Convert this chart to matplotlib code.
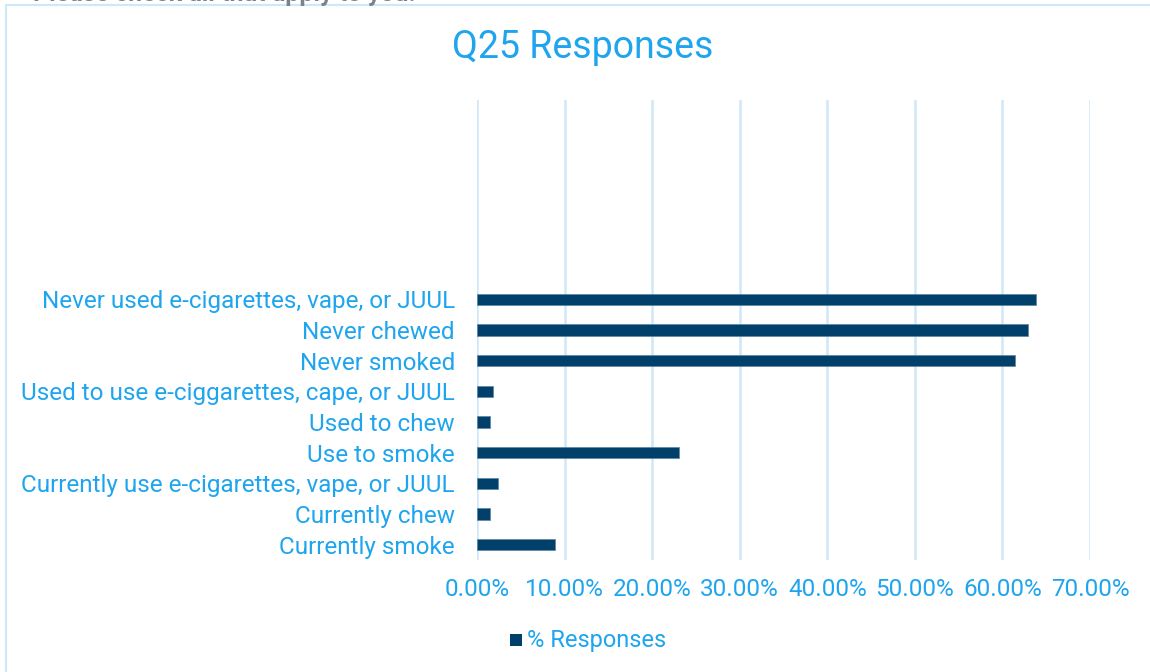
import matplotlib
matplotlib.use("Agg")
import matplotlib.pyplot as plt
from matplotlib.patches import Rectangle

categories = [
    "Currently smoke",
    "Currently chew",
    "Currently use e-cigarettes, vape, or JUUL",
    "Use to smoke",
    "Used to chew",
    "Used to use e-ciggarettes, cape, or JUUL",
    "Never smoked",
    "Never chewed",
    "Never used e-cigarettes, vape, or JUUL",
]
values = [8.9, 1.5, 2.4, 23.1, 1.5, 1.8, 61.4, 62.9, 63.8]
xticks = [0, 10, 20, 30, 40, 50, 60, 70]
xtick_labels = ["0.00%", "10.00%", "20.00%", "30.00%", "40.00%", "50.00%", "60.00%", "70.00%"]

BLUE_TEXT = "#1ea5ee"
BAR = "#00406a"
GRID = "#cfe8f8"
FONT = ["Roboto", "DejaVu Sans"]
plt.rcParams["font.family"] = FONT

fig = plt.figure(figsize=(11.5, 6.72), dpi=100)
W, H = 1150, 672
ax = fig.add_axes([477 / W, 1 - 560 / H, (1090 - 477) / W, (560 - 100) / H])

ypos = list(range(len(categories)))
ax.barh(ypos, values, height=0.36, color=BAR, edgecolor="#5a86a3", linewidth=0.5, zorder=3)
ax.set_ylim(-0.5, 14.5)
ax.set_xlim(0, 70)
ax.set_yticks(ypos)
ax.set_yticklabels(categories, color=BLUE_TEXT, fontsize=17.5)
ax.set_xticks(xticks)
ax.set_xticklabels(xtick_labels, color=BLUE_TEXT, fontsize=17.5)
ax.tick_params(axis="both", length=0)
ax.tick_params(axis="y", pad=16)
ax.tick_params(axis="x", pad=13)
ax.grid(axis="x", color=GRID, linewidth=1.8, zorder=0)
for s in ax.spines.values():
    s.set_visible(False)

# title
fig.text(583 / W, 1 - 48 / H, "Q25 Responses", ha="center", va="center",
         color=BLUE_TEXT, fontsize=27)

# legend
fig.patches.append(Rectangle((510 / W, 1 - 646 / H), 12 / W, 12 / H,
                             transform=fig.transFigure, facecolor=BAR, edgecolor="none"))
fig.text(527 / W, 1 - 640 / H, "% Responses", ha="left", va="center",
         color=BLUE_TEXT, fontsize=17)

# chart frame
fig.patches.append(Rectangle((6 / W, -0.05), 1.1, 1 - 5 / H + 0.05,
                             transform=fig.transFigure, facecolor="none",
                             edgecolor="#cde8f8", linewidth=1.5))

# cut-off header text (only its lower edge is visible, as in the reference)
fig.text(33 / W, 1 - 1 / H, "Please check all that apply to you.", ha="left",
         va="baseline", color="#7a828b", fontsize=18, fontweight="bold")

fig.savefig("out.png", dpi=100, facecolor="white")
